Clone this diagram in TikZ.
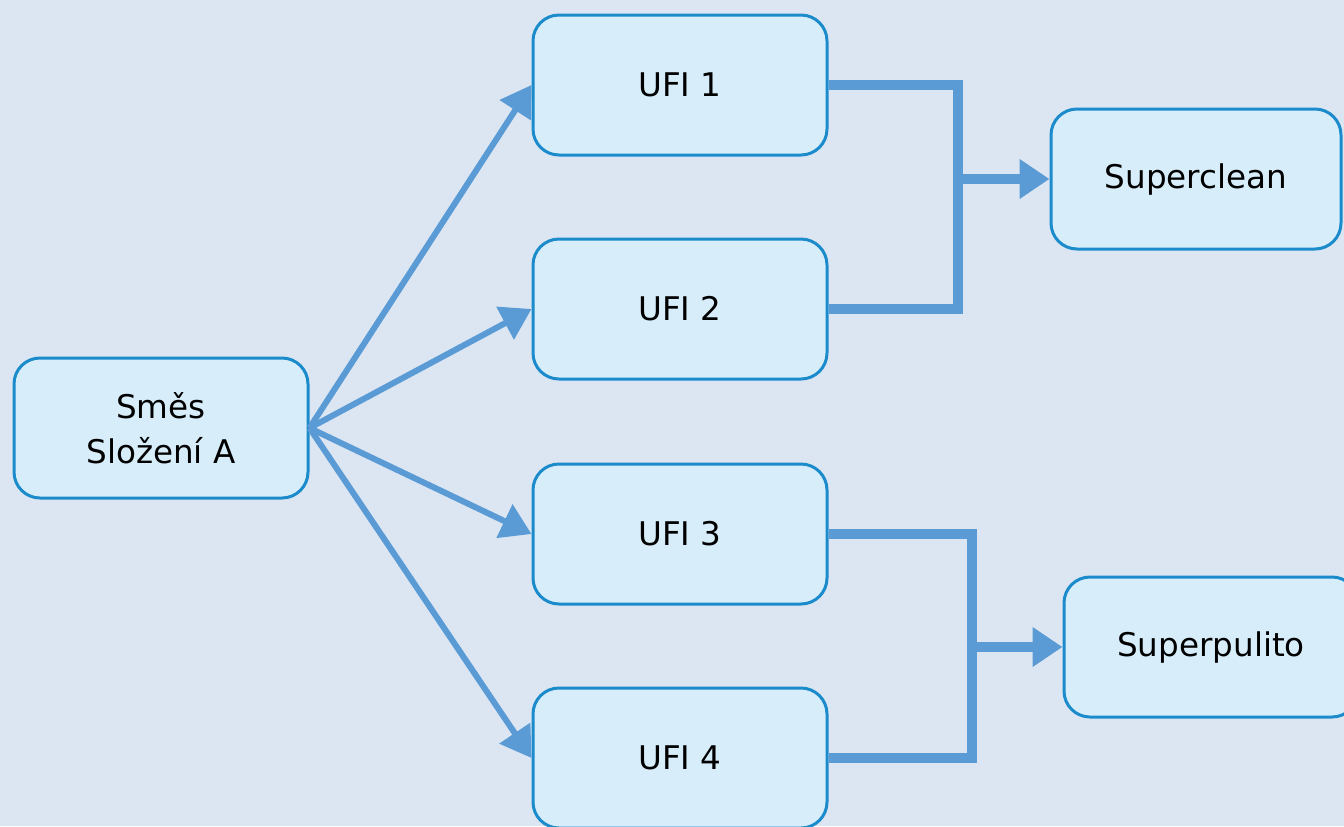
\documentclass[tikz,border=0pt]{standalone}
\usepackage{fontspec}
\setmainfont{DejaVu Sans}
\usetikzlibrary{arrows.meta}
\definecolor{bg}{HTML}{DCE6F2}
\definecolor{boxfill}{HTML}{D7EEFA}
\definecolor{boxline}{HTML}{1B8BCB}
\definecolor{flowc}{HTML}{5B9BD5}
\begin{document}
\begin{tikzpicture}[x=0.5pt,y=-0.5pt,
  box/.style={draw=boxline, fill=boxfill, line width=1.5pt, rounded corners=13pt,
    minimum width=147pt, minimum height=70pt, inner sep=0pt,
    font=\fontsize{16.3}{22.5}\selectfont, align=center},
  feed/.style={draw=flowc, line width=3pt, -{Triangle[length=15pt,width=18pt]}},
  bracket/.style={draw=flowc, line width=5pt, line join=miter},
  merge/.style={draw=flowc, line width=5pt, -{Triangle[length=15pt,width=19pt]}}]
\path[fill=bg] (0,0) rectangle (1344,826);
\useasboundingbox (0,0) rectangle (1344,826);

\node[box] (src) at (161,428) {Směs\\Složení A};
\node[box] (u1) at (680,85) {UFI 1};
\node[box] (u2) at (680,309) {UFI 2};
\node[box] (u3) at (680,534) {UFI 3};
\node[box] (u4) at (680,758) {UFI 4};
\node[box, minimum width=145pt] (sc) at (1196,179) {Superclean};
\node[box] (sp) at (1211,647) {Superpulito};

\coordinate (j1) at (958,179);
\coordinate (j2) at (972,647);

\draw[feed] (src.east) -- (u1.west);
\draw[feed] (src.east) -- (u2.west);
\draw[feed] (src.east) -- (u3.west);
\draw[feed] (src.east) -- (u4.west);

\draw[bracket] (u1.east) -| (j1) |- (u2.east);
\draw[bracket] (u3.east) -| (j2) |- (u4.east);
\draw[merge] (j1) -- (sc.west);
\draw[merge] (j2) -- (sp.west);
\end{tikzpicture}
\end{document}
